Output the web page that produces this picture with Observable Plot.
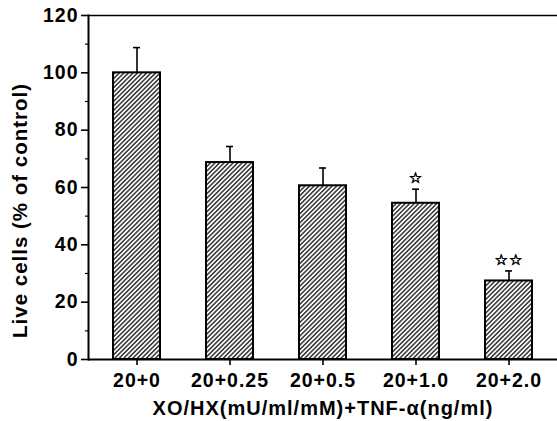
<!DOCTYPE html>
<html>
<head>
<meta charset="utf-8">
<script src="https://cdn.jsdelivr.net/npm/d3@7"></script>
<script src="https://cdn.jsdelivr.net/npm/@observablehq/plot@0.6"></script>
<style>
  html, body { margin: 0; padding: 0; background: #fff; }
  #chart svg { font-family: "Liberation Sans", Arial, Helvetica, sans-serif; font-weight: bold; }
  #chart svg text { letter-spacing: 1px; }
</style>
</head>
<body>
<div id="chart"></div>
<script>
const categories = ["20+0", "20+0.25", "20+0.5", "20+1.0", "20+2.0"];
const values = [100, 68.7, 60.6, 54.5, 27.4];
const errors = [8.8, 5.6, 6.2, 4.9, 3.5];
const marks = ["", "", "", "☆", "☆☆"];
const yMajorTicks = [0, 20, 40, 60, 80, 100, 120];
const yMinorTicks = [10, 30, 50, 70, 90, 110];
const xTitle = "XO/HX(mU/ml/mM)+TNF-α(ng/ml)";
const yTitle = "Live cells (% of control)";

const data = categories.map((c, i) => ({cat: c, v: values[i], e: errors[i], top: values[i] + errors[i], sig: marks[i]}));

const chart = Plot.plot({
  width: 557,
  height: 421,
  marginLeft: 88,
  marginRight: 0,
  marginTop: 15,
  marginBottom: 62,
  style: {fontFamily: '"Liberation Sans", Arial, sans-serif', fontWeight: "bold", background: "#fff", color: "#000"},
  x: {domain: categories, paddingInner: 0.5, paddingOuter: 0.25, label: null},
  y: {domain: [0, 120], label: null},
  marks: [
    Plot.barY(data, {x: "cat", y: "v", fill: "url(#hatch)", stroke: "#000", strokeWidth: 2}),
    Plot.ruleX(data, {x: "cat", y1: "v", y2: "top", stroke: "#000", strokeWidth: 1.6}),
    Plot.tickY(data, {x: "cat", y: "top", stroke: "#000", strokeWidth: 1.6, insetLeft: 20, insetRight: 20}),
    Plot.text(data, {x: "cat", y: "top", text: "sig", dy: -11, fontSize: 15, fontFamily: "DejaVu Sans", fontWeight: "bold", fill: "#000", stroke: "#000", strokeWidth: 0.7}),
    Plot.ruleY([0], {stroke: "#000", strokeWidth: 2}),
    Plot.ruleY([120], {stroke: "#000", strokeWidth: 1.6}),
    Plot.frame({anchor: "left", stroke: "#000", strokeWidth: 2}),
    Plot.axisY({ticks: yMajorTicks, tickSize: 7, tickPadding: 3, fontSize: 19.5, label: null, strokeWidth: 1.6}),
    Plot.axisY({ticks: yMinorTicks, tickSize: 3, tickFormat: () => "", label: null, strokeWidth: 1.2}),
    Plot.axisX({tickSize: 6, tickPadding: 8, fontSize: 19.5, label: null, strokeWidth: 1.6}),
    Plot.text([xTitle], {frameAnchor: "bottom", dy: 55, fontSize: 20, fill: "#000", text: d => d}),
    Plot.text([yTitle], {y: [52], frameAnchor: "left", textAnchor: "middle", dx: -68, rotate: -90, fontSize: 20.5, fill: "#000", text: d => d})
  ]
});

const defs = d3.select(chart).insert("defs", ":first-child");
const pat = defs.append("pattern")
  .attr("id", "hatch")
  .attr("patternUnits", "userSpaceOnUse")
  .attr("width", 3.2)
  .attr("height", 10)
  .attr("patternTransform", "rotate(45)");
pat.append("rect").attr("width", 3.2).attr("height", 10).attr("fill", "#fff");
pat.append("line").attr("x1", 1.6).attr("x2", 1.6).attr("y1", 0).attr("y2", 10)
  .attr("stroke", "#000").attr("stroke-width", 1.2);

document.getElementById("chart").appendChild(chart);
</script>
</body>
</html>
